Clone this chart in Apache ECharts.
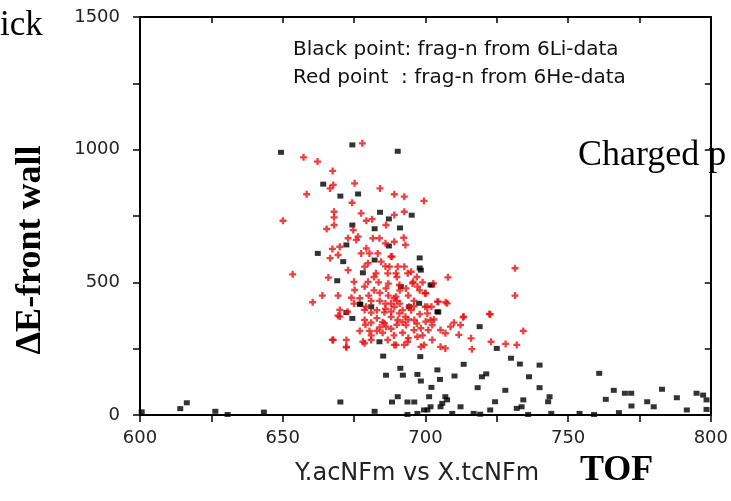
<!DOCTYPE html>
<html><head><meta charset="utf-8">
<script src="https://cdn.jsdelivr.net/npm/echarts@6/dist/echarts.min.js"></script>
<style>html,body{margin:0;padding:0;background:#fff}#c{width:731px;height:501px}</style>
</head><body><div id="c"></div>
<script>
// x ticks / y ticks
const xTicks = [600, 650, 700, 750, 800];
const yTicks = [0, 500, 1000, 1500];
// Black points: frag-n from 6Li-data  [TOF, dE]
const blackPts = [
[649.4,990],[674.4,1018],[664.2,870],[670.2,825],[676.4,833],[674.4,716],[672.3,641],[662.3,609],[671.2,578],
[669.1,506],[678.1,536],[674.4,364],[677,418],[690.3,994],[684.1,764],[687.2,739],[695.2,753],[682.2,702],
[691.1,705],[687.2,637],[682.2,584],[698,592],[698,554],[702.4,490],[691.4,484],[697.8,421],[704.2,389],
[694.3,408],[681,408],[719,333],[677.2,417],[672.3,386],[683.9,276],[701.8,490],[698.4,546],
[600.6,12],[614.1,24],[616.4,46],[626.4,14],[630.7,2],[643.4,11],[670.2,49],[682.2,14],[685.2,222],[686.2,150],
[691.2,176],[692.1,150],[698.2,220],[697.2,153],[698.4,128],[688.3,49],[690.3,69],[693.7,49],[696.1,49],
[693.7,2],[697.2,6],[699.5,19],
[704.5,388],[725,251],[730,214],[733.1,192],[740,188],[713.4,191],[704.2,170],[705.1,134],[710.2,147],
[719.8,144],[721.3,155],[736.3,144],[718.3,103],[728,93],[740,103],[702.1,104],[760.9,157],[766,93],
[769.9,82],[772.1,82],[763.2,59],[782.9,97],[788.1,65],[795,82],[797.3,75],[798.5,57],[798.5,21],[791.6,19],
[777.7,50],[780,31],[772.2,34],[767.8,9],[759.1,2],[754,6],[744.1,6],[743.5,69],[743,50],[734.3,57],[733.7,31],
[732,25],[736,2],[724.4,50],[722.7,19],[719.2,3],[716.9,6],[712.3,31],[709.4,6],[707,69],[705.9,44],[705.3,31],
[701.3,69],[701.8,31],[700.7,19],[707.6,57]
];
// Red points: frag-n from 6He-data  [TOF, dE]
const redPts = [
[677.9,1024],[657.3,971],[662.2,955],[667.5,920],[667.7,867],[666.6,854],[675.2,873],[658.4,832],[674.3,800],
[668,766],[668,745],[668,716],[665.4,701],[650.1,732],[677.5,760],[667.4,626],[670,634],[672.9,666],[675.8,660],
[666.6,591],[669.4,603],[653.5,530],[666,518],[663.9,450],[660.5,425],[669.4,450],[669.4,374],[672.7,389],
[672.9,546],[675,502],[675.2,471],[674.1,442],[678.7,484],[678.7,559],[677.5,609],[674.7,697],[676.4,672],
[678.7,396],[670,396],[678.7,358],
[679.9,502],[680.1,450],[682.7,534],[683.6,500],[686.2,477],[689.7,534],[686.8,534],[689.7,446],[693.2,477],
[695.7,502],[693.8,534],[699.9,459],[699.9,408],[679.2,408],[681,386],[685.6,387],[689.1,408],[690.9,383],
[694.3,408],[670,371],[681,348],[685.6,346],[677,317],[680.4,317],[683,317],[686.2,333],[690.3,358],[693.2,339],
[696.1,358],[698.4,327],[700.1,352],[700.7,383],[667.4,283],[672.3,283],[672.3,255],[678.1,276],[681,283],
[686.8,283],[689.7,264],[693.8,276],[697.2,295],[699.5,264],
[684.1,854],[689.1,832],[692.6,823],[699.5,807],[692.6,766],[689.1,754],[679.3,732],[681.3,738],[686.2,716],
[692.4,668],[693,641],[689.1,653],[683.9,666],[681.6,666],[686,647],[679.3,628],[680.4,609],[683.3,609],
[688.3,597],[684.5,578],[687.4,559],[690.3,559],[692.6,559],[679.9,572],
[731.4,553],[731.4,450],[707.9,519],[702.8,496],[700.1,459],[704.2,427],[707.1,425],[697.2,484],[722.7,379],
[713.2,368],[710,348],[700.7,408],[695.5,496],[690.9,490],[687.9,597],
[704.5,427],[707.6,421],[702.1,408],[713.4,371],[722.4,381],[734.3,317],[701.8,358],[702.4,339],[705.3,320],
[708.8,333],[707,308],[711.7,302],[712.3,339],[716,289],[716.3,248],[723,276],[728.1,268],[732,264],[702.4,283],
[705.3,257],[707,251],
[667.7,283],[672.3,257],[678.7,270],[689.1,264],[692.6,264],[698.4,257],
[684,430],[686,400],[688,370],[690,340],[692,310],[694,290],[696,320],[698,380],[688,420],[684,460],[682,520],
[686,560],[690,520],[694,450],[696,430],[698,470],[691,470],[687,495],[683,395],[679,340],[681,300],[685,310],
[689,300],[693,370],[695,395],[697,345],[699,300],[701,320],[703,360],[691,420],[689,440],[687,450],[685,350],
[683,365],[681,430],[677,440],[675,420],[695,540],[697,520],[699,500],
[686,420],[688,390],[690,430],[692,395],[694,360],[684,330],[688,325],[692,350],[696,410],[682,470]
];
const legendLines = ['Black point: frag-n from 6Li-data', 'Red point  : frag-n from 6He-data'];
const xAxisName = 'Y.acNFm vs X.tcNFm';

const chart = echarts.init(document.getElementById('c'));
const lbl = {fontFamily:'DejaVu Sans', fontSize:18, color:'#222'};
const plus = 'path://M2,0H4V2H6V4H4V6H2V4H0V2H2Z';
chart.setOption({
  animation:false,
  grid:{left:140, top:17, width:576, height:398},
  xAxis:[{type:'value', min:600, max:800, interval:25, position:'bottom',
    axisLine:{onZero:false, lineStyle:{color:'#000', width:2}},
    axisTick:{length:7, lineStyle:{color:'#000', width:1.5}},
    axisLabel:Object.assign({margin:14, showMinLabel:true, showMaxLabel:true,
      formatter:v => xTicks.includes(v) ? String(v) : ''}, lbl),
    splitLine:{show:false}},
   {type:'value', min:600, max:800, interval:25, position:'top',
    axisLine:{onZero:false, lineStyle:{color:'#000', width:2}},
    axisTick:{inside:true, length:6, lineStyle:{color:'#000', width:1.5}},
    axisLabel:{show:false}, splitLine:{show:false}}],
  yAxis:[{type:'value', min:0, max:1500, interval:250, position:'left',
    axisLine:{show:true, onZero:false, lineStyle:{color:'#000', width:2}},
    axisTick:{show:true, length:7, lineStyle:{color:'#000', width:1.5}},
    axisLabel:Object.assign({margin:20, showMinLabel:true, showMaxLabel:true,
      formatter:v => yTicks.includes(v) ? String(v) : ''}, lbl),
    splitLine:{show:false}},
   {type:'value', min:0, max:1500, interval:250, position:'right',
    axisLine:{show:true, onZero:false, lineStyle:{color:'#000', width:2}},
    axisTick:{show:true, inside:true, length:6, lineStyle:{color:'#000', width:1.5}},
    axisLabel:{show:false}, splitLine:{show:false}}],
  series:[
    {type:'scatter', data:blackPts, symbol:'rect', symbolSize:[6,5], itemStyle:{color:'#000'}, z:2},
    {type:'scatter', data:redPts, symbol:plus, symbolSize:7, itemStyle:{color:'#e81010'}, z:3}
  ],
  graphic:[
    {type:'text', left:0, top:8, style:{text:'ick', font:'35px "Liberation Serif"', fill:'#000'}},
    {type:'text', left:578, top:138, style:{text:'Charged p', font:'36px "Liberation Serif"', fill:'#000'}},
    {type:'text', x:31, y:250, rotation:Math.PI/2, style:{text:'\u0394E-front wall', font:'bold 36px "Liberation Serif"', fill:'#000', align:'center', verticalAlign:'middle'}},
    {type:'text', left:293, top:40, style:{text:legendLines[0], font:'20px "DejaVu Sans"', fill:'#111'}},
    {type:'text', left:293, top:68, style:{text:legendLines[1], font:'20px "DejaVu Sans"', fill:'#111'}},
    {type:'text', left:295, top:462, style:{text:xAxisName, font:'24px "DejaVu Sans"', fill:'#222'}},
    {type:'text', left:580, top:453, style:{text:'TOF', font:'bold 36px "Liberation Serif"', fill:'#000'}}
  ]
});
</script></body></html>
